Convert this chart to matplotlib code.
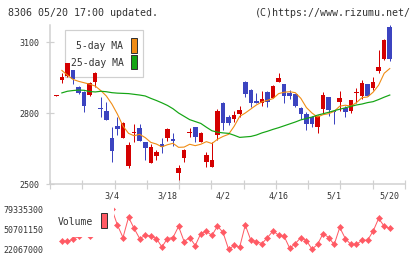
import matplotlib
matplotlib.use("Agg")
import matplotlib.pyplot as plt
import numpy as np
from matplotlib.patches import Rectangle

W, H = 420, 259
nan = np.nan

# daily candles (oldest first)
opens = [2874, 2940, 2956, 2982, 2911, 2890, 2876, 2930, 2822, 2810,
         2695, 2745, 2695, 2577, 2715, 2735, 2679, 2590, 2620, 2669,
         2693, 2692, 2548, 2610, 2717, 2739, 2679, 2595, 2571, 2707,
         2844, 2784, 2775, 2796, 2932, 2897, 2849, 2843, 2889, 2865,
         2932, 2922, 2886, 2880, 2822, 2795, 2784, 2742, 2818, 2868,
         2810, 2848, 2820, 2810, 2884, 2872, 2922, 2907, 2977, 3027, 3165]
highs = [2876, 2970, 3013, 2982, 2915, 2894, 2932, 2972, 2867, 2848,
         2741, 2785, 2760, 2679, 2753, 2755, 2679, 2667, 2645, 2693,
         2738, 2717, 2582, 2646, 2736, 2739, 2718, 2634, 2679, 2816,
         2848, 2792, 2808, 2830, 2937, 2900, 2886, 2893, 2891, 2918,
         2970, 2922, 2897, 2880, 2827, 2803, 2786, 2793, 2890, 2868,
         2812, 2893, 2830, 2855, 2905, 2939, 2922, 2951, 3066, 3113, 3172]
lows = [2874, 2925, 2954, 2922, 2879, 2806, 2872, 2911, 2783, 2772,
        2594, 2708, 2693, 2568, 2679, 2680, 2602, 2588, 2600, 2632,
        2680, 2662, 2517, 2594, 2700, 2679, 2679, 2571, 2571, 2686,
        2728, 2749, 2764, 2782, 2869, 2827, 2841, 2829, 2824, 2862,
        2932, 2844, 2858, 2827, 2773, 2727, 2741, 2714, 2800, 2786,
        2753, 2810, 2784, 2799, 2841, 2860, 2872, 2897, 2968, 3024, 3021]
closes = [2876, 2954, 3010, 2942, 2886, 2831, 2928, 2970, 2818, 2772,
          2641, 2734, 2757, 2665, 2721, 2683, 2652, 2656, 2634, 2657,
          2733, 2683, 2566, 2642, 2720, 2697, 2716, 2622, 2600, 2810,
          2759, 2759, 2792, 2813, 2880, 2841, 2842, 2858, 2848, 2915,
          2948, 2870, 2871, 2828, 2794, 2753, 2754, 2787, 2876, 2813,
          2806, 2865, 2806, 2855, 2890, 2928, 2872, 2932, 2995, 3108, 3027]

ma5 = [nan, 2980, 2960, 2942, 2934, 2928, 2922, 2914, 2895, 2872,
       2838, 2795, 2745, 2714, 2704, 2710, 2696, 2676, 2669, 2657,
       2666, 2672, 2655, 2656, 2668, 2662, 2668, 2679, 2671, 2689,
       2701, 2710, 2744, 2786, 2800, 2817, 2834, 2847, 2854, 2861,
       2882, 2888, 2890, 2886, 2862, 2823, 2800, 2783, 2793, 2797,
       2807, 2829, 2833, 2829, 2844, 2865, 2868, 2888, 2918, 2968, 2988]
ma25 = [nan, 2885, 2892, 2895, 2897, 2896, 2891, 2889, 2892, 2890,
        2886, 2884, 2883, 2882, 2879, 2876, 2872, 2862, 2853, 2843,
        2832, 2818, 2800, 2786, 2772, 2764, 2756, 2740, 2725, 2719,
        2716, 2714, 2706, 2697, 2699, 2701, 2707, 2716, 2723, 2731,
        2738, 2746, 2754, 2762, 2771, 2777, 2783, 2791, 2797, 2803,
        2810, 2816, 2822, 2828, 2834, 2838, 2844, 2848, 2857, 2867, 2876]

volume = [nan, 33500000, 33500000, 36000000, 41000000, 47000000, 41000000,
          49000000, 46000000, 52000000, 79335300, 56400000, 38800000,
          67600000, 51700000, 37400000, 41700000, 41000000, 37400000,
          25400000, 37400000, 38800000, 54600000, 33100000, 38800000,
          27400000, 44500000, 47600000, 41700000, 55000000, 46000000,
          22067000, 27500000, 25400000, 56400000, 35000000, 33100000,
          30200000, 38800000, 48100000, 42100000, 40400000, 23500000,
          30200000, 38800000, 34500000, 22300000, 28900000, 44500000,
          38800000, 28900000, 53100000, 37400000, 28900000, 28900000,
          35000000, 35000000, 47800000, 66000000, 54700000, 51700000]

price_ticks = [2500, 2800, 3100]
vol_ticks = [22067000, 50701150, 79335300]
date_pos = [10, 20, 30, 40, 50, 60]
date_labels = ["3/4", "3/18", "4/2", "4/16", "5/1", "5/20"]

RED = "#d40000"
BLUE = "#3c44c0"
ORANGE = "#f08c14"
GREEN = "#14a514"
VOLC = "#ff5a64"
AXC = "#d0d0d0"
TXT = "#333333"
MONO = "DejaVu Sans Mono"
PX = 0.72  # one pixel in points at 100 dpi


def fx(x):
    return x / W


def fy(y):
    return 1 - y / H


def frect(x0, y0, x1, y1, **kw):
    return Rectangle((fx(x0), fy(y1)), (x1 - x0) / W, (y1 - y0) / H, **kw)


fig = plt.figure(figsize=(W / 100, H / 100), dpi=100)

# ---- price panel ----
ax = fig.add_axes([fx(50), fy(184), 355 / W, 159 / H])
xl = (-1.134, 62.74)
ax.set_xlim(*xl)
ax.set_ylim(2500, 3172)

o = np.array(opens, float)
c = np.array(closes, float)
x = np.arange(len(c))
cols = np.where(c >= o, RED, BLUE)
ax.vlines(x, lows, highs, colors=cols, lw=1 * PX, zorder=3)
ax.bar(x, np.maximum(np.abs(c - o), 3.0), bottom=np.minimum(o, c),
       width=0.82, color=cols, lw=0, zorder=4)
ax.plot(x, ma5, color=ORANGE, lw=1.1 * PX, zorder=5)
ax.plot(x, ma25, color=GREEN, lw=1.2 * PX, zorder=5)

for s in ["top", "right"]:
    ax.spines[s].set_visible(False)
for s in ["left", "bottom"]:
    ax.spines[s].set_color(AXC)
    ax.spines[s].set_linewidth(1.5 * PX)

ax.set_yticks(price_ticks)
ax.set_yticklabels([str(v) for v in price_ticks], family=MONO)
ax.tick_params(axis="y", direction="inout", length=8 * PX, width=1.2 * PX,
               color=AXC, labelsize=6, labelcolor=TXT, pad=4.8)
ax.set_xticks(np.linspace(xl[0], xl[1], 12))
ax.set_xticklabels([])
ax.tick_params(axis="x", which="major", direction="inout", length=9 * PX,
               width=1.2 * PX, color=AXC)
ax.set_xticks(date_pos, minor=True)
ax.set_xticklabels(date_labels, minor=True, family=MONO)
ax.tick_params(axis="x", which="minor", length=0, labelsize=6,
               labelcolor=TXT, pad=5.5)

# legend box (sits behind the candles)
tf = fig.transFigure
ax.add_patch(frect(65, 30, 143, 77, transform=tf, facecolor="white",
                   edgecolor=AXC, lw=1.2 * PX, zorder=0.5, clip_on=False))
ax.add_patch(frect(130.7, 38.3, 137.3, 52.7, transform=tf, facecolor=ORANGE,
                   edgecolor="#333333", lw=1 * PX, zorder=0.6, clip_on=False))
ax.add_patch(frect(130.7, 55, 137.3, 69.3, transform=tf, facecolor=GREEN,
                   edgecolor="#333333", lw=1 * PX, zorder=0.6, clip_on=False))
fig.text(fx(123.5), fy(46), "5-day MA", ha="right", va="center",
         family=MONO, fontsize=7, color=TXT)
fig.text(fx(123.5), fy(62.7), "25-day MA", ha="right", va="center",
         family=MONO, fontsize=7, color=TXT)

# ---- volume panel ----
vax = fig.add_axes([fx(50), fy(249.3), 355 / W, 40.3 / H])
vax.set_xlim(*xl)
vax.set_ylim(np.nanmin(volume), np.nanmax(volume))
vax.plot(x, volume, color=VOLC, lw=1 * PX, marker="D", ms=3.1,
         mec=VOLC, mew=0.4, clip_on=False)
for s in vax.spines.values():
    s.set_visible(False)
vax.set_xticks([])
vax.set_yticks(vol_ticks)
vax.set_yticklabels([str(v) for v in vol_ticks], family=MONO)
vax.tick_params(axis="y", length=0, labelsize=6, labelcolor=TXT, pad=4.8)

fig.patches.append(frect(52, 204, 114, 236.5, transform=tf,
                         facecolor="white", edgecolor="none", zorder=1))
fig.patches.append(frect(101, 213, 107.3, 228, transform=tf, facecolor=VOLC,
                         edgecolor="#333333", lw=1 * PX, zorder=2))
fig.text(fx(58), fy(222), "Volume", ha="left", va="center",
         family=MONO, fontsize=7, color=TXT, zorder=3)

# ---- header ----
fig.text(fx(8), fy(13.3), "8306 05/20 17:00 updated.", ha="left",
         va="center", family=MONO, fontsize=7.2, color=TXT)
fig.text(fx(411), fy(13.3), "(C)https://www.rizumu.net/", ha="right",
         va="center", family=MONO, fontsize=7.2, color=TXT)

fig.savefig("out.png", dpi=100)
